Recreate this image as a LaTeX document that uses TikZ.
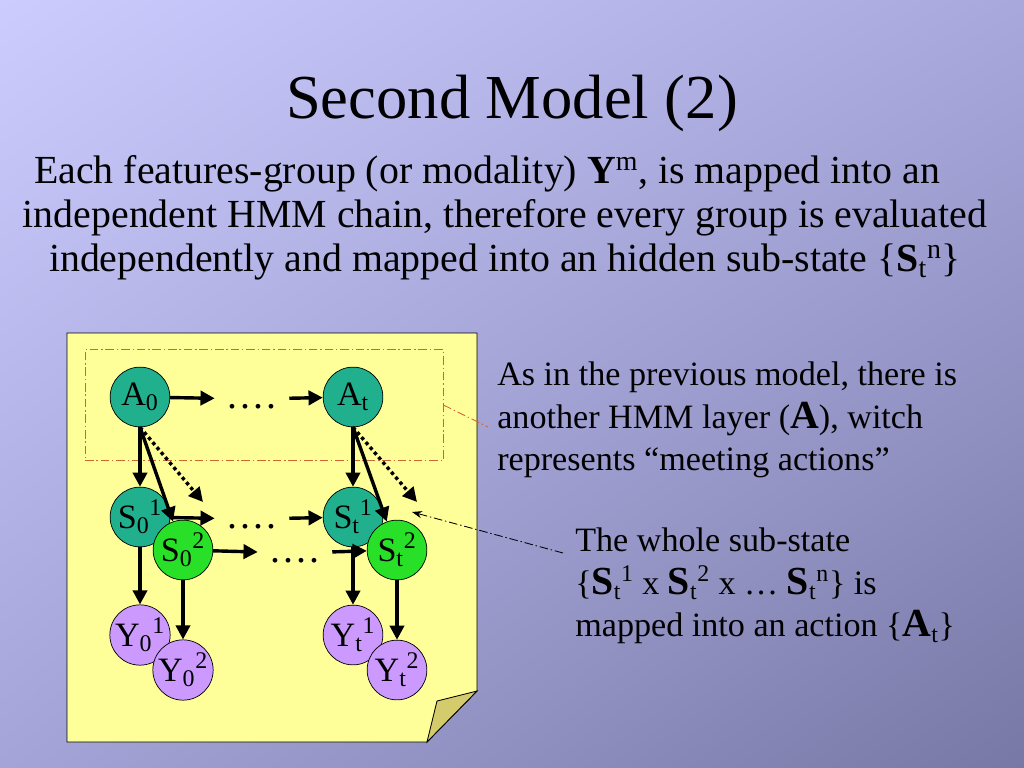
\documentclass[tikz,border=0pt]{standalone}
\usepackage{fontspec}
\setmainfont{Liberation Serif}
\usetikzlibrary{positioning}
\usetikzlibrary{arrows.meta}
\usetikzlibrary{shadings}
\definecolor{bgTopLeft}{RGB}{204,204,255}
\definecolor{bgTopRight}{RGB}{168,168,221}
\definecolor{bgBottomLeft}{RGB}{164,164,216}
\definecolor{bgBottomRight}{RGB}{120,120,166}
\definecolor{noteColor}{RGB}{255,255,153}
\definecolor{flapColor}{RGB}{212,204,108}
\definecolor{actionColor}{RGB}{32,176,142}
\definecolor{subColor}{RGB}{40,224,40}
\definecolor{obsColor}{RGB}{204,153,255}
\definecolor{layerColor}{RGB}{204,102,51}
\newcommand{\chainDots}{.\hspace{2pt}.\hspace{2pt}.\hspace{2pt}.}
\newcommand{\bigB}[1]{{\fontsize{28}{30}\selectfont\textbf{#1}}}

\begin{document}
\begin{tikzpicture}[x=0.703125pt,y=-0.703125pt]

          \tikzstyle{stateNode} = [circle, draw=black, line width=0.5pt, minimum size=42pt, inner sep=0pt, font=\fontsize{24}{24}\selectfont];
          \tikzstyle{actionNode} = [stateNode, fill=actionColor];
          \tikzstyle{subNodeA} = [stateNode, fill=actionColor];
          \tikzstyle{subNodeB} = [stateNode, fill=subColor];
          \tikzstyle{obsNode} = [stateNode, fill=obsColor];
          \tikzstyle{dotsNode} = [inner xsep=9pt, inner ysep=0pt, text height=14pt, text depth=0pt, font=\fontsize{28}{28}\selectfont];
          \tikzstyle{textNode} = [inner sep=0pt, align=left, font=\fontsize{24}{30}\selectfont];

          \tikzstyle{chainEdge} = [line width=2.4pt, -{Triangle[length=10pt,width=10pt]}];
          \tikzstyle{dottedEdge} = [chainEdge, dash pattern=on 2.4pt off 2.2pt];
          \tikzstyle{calloutEdge} = [line width=0.6pt, dash pattern=on 6pt off 2pt on 1pt off 2pt];

          \useasboundingbox (0,0) rectangle (1024,768);
          \shade[upper left=bgTopLeft, upper right=bgTopRight, lower left=bgBottomLeft, lower right=bgBottomRight] (0,0) rectangle (1024,768);

          \node[font=\fontsize{44}{48}\selectfont] (title) at (512,103) {Second Model (2)};
          \node[align=center, font=\fontsize{28}{31}\selectfont] (intro) at (505,218) {Each features-group (or modality) \textbf{Y}\textsuperscript{m}, is mapped into an\hspace*{25pt}\\independent HMM chain, therefore every group is evaluated\\independently and mapped into an hidden sub-state \{\textbf{S}\textsubscript{t}\textsuperscript{n}\}};

          % sticky note
          \filldraw[fill=noteColor, draw=black, line width=0.6pt] (67,333) -- (477,333) -- (477,691) -- (427,742) -- (67,742) -- cycle;
          \filldraw[fill=flapColor, draw=black, line width=0.6pt] (477,691) -- (437,701) -- (427,742) -- cycle;
          \node[draw=layerColor, calloutEdge, minimum width=251.7pt, minimum height=78pt] (layerBox) at (264,405) {};

          \node[actionNode] (A0) at (140,397) {A\textsubscript{0}};
          \node[actionNode] (At) at (353,397) {A\textsubscript{t}};
          \node[subNodeA] (S01) at (140,517) {S\textsubscript{0}\textsuperscript{1}};
          \node[subNodeB] (S02) at (183,550) {S\textsubscript{0}\textsuperscript{2}};
          \node[subNodeA] (St1) at (353,517) {S\textsubscript{t}\textsuperscript{1}};
          \node[subNodeB] (St2) at (397,550) {S\textsubscript{t}\textsuperscript{2}};
          \node[obsNode] (Y01) at (140,635) {Y\textsubscript{0}\textsuperscript{1}};
          \node[obsNode] (Y02) at (183,670) {Y\textsubscript{0}\textsuperscript{2}};
          \node[obsNode] (Yt1) at (353,635) {Y\textsubscript{t}\textsuperscript{1}};
          \node[obsNode] (Yt2) at (397,670) {Y\textsubscript{t}\textsuperscript{2}};

          \node[dotsNode] (dotsA) at (252,399) {\chainDots};
          \node[dotsNode] (dotsS1) at (252,519) {\chainDots};
          \node[dotsNode] (dotsS2) at (295,553) {\chainDots};
          \coordinate (endA0) at (203,502);
          \coordinate (endAt) at (417,502);

          \draw[chainEdge] (A0) -- (dotsA);
          \draw[chainEdge] (dotsA) -- (At);
          \draw[chainEdge] (S01) -- (dotsS1);
          \draw[chainEdge] (dotsS1) -- (St1);
          \draw[chainEdge] (S02) -- (dotsS2);
          \draw[chainEdge] (dotsS2) -- (St2);

          \draw[chainEdge] (A0.south) -- (S01);
          \draw[chainEdge] (A0.south) -- (S02);
          \draw[dottedEdge] (A0.south) -- (endA0);
          \draw[chainEdge] (At.south) -- (St1);
          \draw[chainEdge] (At.south) -- (St2);
          \draw[dottedEdge] (At.south) -- (endAt);

          \draw[chainEdge] (S01) -- (Y01);
          \draw[chainEdge] (S02) -- (Y02);
          \draw[chainEdge] (St1) -- (Yt1);
          \draw[chainEdge] (St2) -- (Yt2);

          % right hand notes
          \node[textNode, anchor=west] (noteA) at (497,420) {As in the previous model, there is\\another HMM layer (\bigB{A}), witch\\represents “meeting actions”};
          \node[textNode, anchor=west] (noteS) at (575,586) {The whole sub-state\\\{\bigB{S}\textsubscript{t}\textsuperscript{1} x \bigB{S}\textsubscript{t}\textsuperscript{2} x … \bigB{S}\textsubscript{t}\textsuperscript{n}\} is\\mapped into an action \{\bigB{A}\textsubscript{t}\}};

          \coordinate (calloutA) at (488,427);
          \coordinate (calloutS) at (563,553);
          \coordinate (tipS) at (412,512);
          \draw[calloutEdge, draw=layerColor] (layerBox.east) -- (calloutA);
          \draw[calloutEdge, -{Stealth[length=7pt,width=5pt]}] (calloutS) -- (tipS);
        \end{tikzpicture}
\end{document}
